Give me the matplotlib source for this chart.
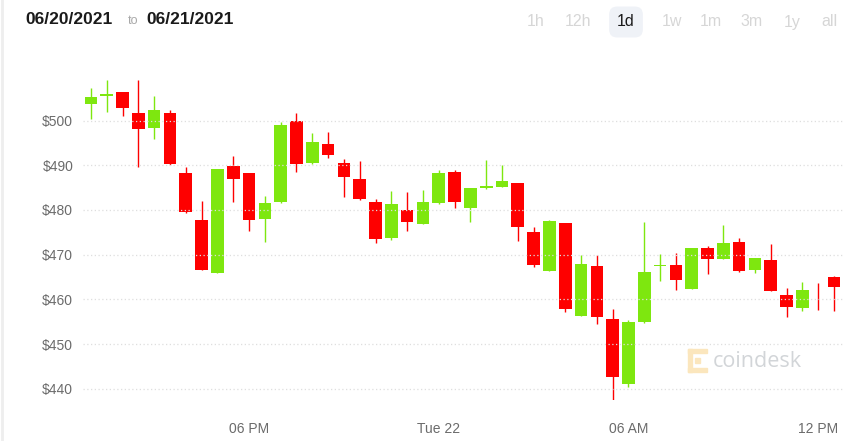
import matplotlib
matplotlib.use("Agg")
import matplotlib.pyplot as plt
import matplotlib.dates as mdates
import pandas as pd
import numpy as np
from matplotlib.patches import Rectangle

# half-hour candles, 21 Jun 13:00 -> 22 Jun 12:30
times = pd.date_range("2021-06-21 13:00", periods=48, freq="30min")

opens = [503.8, 505.4, 506.3, 501.7, 498.4, 501.7, 488.3, 477.8, 466.0, 489.9,
         488.2, 478.0, 481.8, 500.0, 490.5, 494.8, 490.4, 487.0, 481.8, 473.7,
         480.1, 476.9, 481.6, 488.4, 480.4, 485.0, 485.2, 486.0, 475.1, 466.4,
         477.0, 456.3, 467.4, 455.7, 441.1, 455.0, 467.5, 467.8, 462.3, 471.4,
         469.0, 472.8, 466.5, 468.8, 461.0, 458.0, 460.5, 464.9]
highs = [507.2, 509.1, 506.3, 509.0, 505.5, 502.4, 489.6, 481.9, 489.2, 492.1,
         488.2, 483.1, 499.6, 501.6, 497.2, 497.4, 491.3, 490.9, 482.5, 484.2,
         484.0, 484.4, 489.0, 489.0, 484.8, 491.2, 490.1, 486.0, 476.3, 477.7,
         477.0, 469.9, 469.9, 457.8, 455.5, 477.4, 470.1, 470.4, 471.4, 471.9,
         476.6, 473.7, 469.3, 472.4, 462.6, 464.0, 463.6, 465.2]
lows = [500.4, 502.0, 501.0, 489.6, 495.8, 490.0, 479.3, 466.6, 466.0, 481.7,
        475.3, 472.9, 481.5, 488.5, 490.2, 491.7, 482.9, 482.3, 472.6, 473.2,
        475.3, 476.9, 481.4, 480.4, 477.4, 484.6, 485.2, 473.1, 467.2, 466.3,
        457.2, 456.3, 454.6, 435.4, 440.4, 454.8, 464.1, 462.2, 462.3, 465.7,
        469.0, 466.1, 466.0, 461.8, 456.0, 457.4, 457.7, 457.4]
closes = [505.2, 506.0, 502.7, 498.1, 502.4, 490.3, 479.5, 466.6, 489.2, 486.9,
          477.8, 481.6, 499.1, 490.3, 495.1, 492.3, 487.4, 482.5, 473.6, 481.3,
          477.3, 481.7, 488.2, 481.8, 484.8, 485.2, 486.4, 476.1, 467.7, 477.6,
          457.8, 467.9, 456.1, 442.7, 454.9, 466.2, 467.7, 464.3, 471.4, 469.0,
          472.5, 466.3, 469.3, 461.8, 458.3, 462.1, 460.5, 462.8]

y_ticks = [440, 450, 460, 470, 480, 490, 500]
x_tick_times = ["2021-06-21 18:00", "2021-06-22 00:00", "2021-06-22 06:00", "2021-06-22 12:00"]
x_tick_labels = ["06 PM", "Tue 22", "06 AM", "12 PM"]
ranges = ["1h", "12h", "1d", "1w", "1m", "3m", "1y", "all"]

GREEN = "#7ee70f"
RED = "#fe0000"
FONT = ["Liberation Sans Narrow", "Liberation Sans", "DejaVu Sans"]
plt.rcParams["font.family"] = FONT

W, H = 865, 441
fig = plt.figure(figsize=(W / 100, H / 100), dpi=100)
ax = fig.add_axes([83 / W, (H - 400) / H, (844 - 83) / W, 330 / H])

o = np.array(opens)
c = np.array(closes)
up = c > o  # flat candles count as down (red)
colors = np.where(up, GREEN, RED)
x = mdates.date2num(times)
width = 24 / 1440  # 24 minutes in days

ax.vlines(x, lows, highs, colors=colors, linewidth=1.0, zorder=2)
bottoms = np.minimum(o, c)
diff = np.abs(c - o)
heights = np.where(diff == 0, 0, np.maximum(diff, 0.3))  # flat candle -> wick only
ax.bar(x, heights, width=width, bottom=bottoms, color=colors, linewidth=0, zorder=2)

# time limits: half a candle before first, a bit past the last
step = 30 / 1440
ax.set_xlim(x[0] - 0.5 * step, x[-1] + 0.63 * step)
ax.set_ylim(437.5, 511.3)

ax.set_yticks(y_ticks)
ax.set_yticklabels([f"${v}" for v in y_ticks])
ax.set_xticks(mdates.date2num(pd.to_datetime(x_tick_times)))
ax.set_xticklabels(x_tick_labels)
ax.tick_params(axis="both", length=0, labelsize=10, colors="#6b6b6b")
ax.tick_params(axis="y", pad=7)
ax.tick_params(axis="x", pad=16)
ax.grid(axis="y", linestyle=(0, (1, 2)), color="#dedede", linewidth=0.9, zorder=3)
ax.set_axisbelow(False)
for s in ax.spines.values():
    s.set_visible(False)

# coindesk watermark
ax.text(0.827, 0.118, "coindesk", transform=ax.transAxes, fontsize=15.5,
        color="#d2d5d8", family=["Open Sans", "DejaVu Sans"], va="center", ha="left", zorder=1)
logo = "#fbe6bd"
for rx, ry, rw, rh in [(688, 349, 4, 23), (688, 349, 19, 4), (688, 368, 19, 4), (695, 358, 5, 5)]:
    fig.patches.append(Rectangle((rx / W, (H - ry - rh) / H), rw / W, rh / H,
                                 transform=fig.transFigure, color=logo, zorder=0))

# header
fig.text(25 / W, 1 - 20 / H, "06/20/2021", fontsize=12.5, fontweight="bold", color="#1a1a1a", va="center")
fig.text(128 / W, 1 - 21 / H, "to", fontsize=9, color="#a8a8a8", va="center")
fig.text(146 / W, 1 - 20 / H, "06/21/2021", fontsize=12.5, fontweight="bold", color="#1a1a1a", va="center")

range_x = [536, 578, 626, 672, 711, 752, 792, 829]
for lab, px in zip(ranges, range_x):
    if lab == "1d":
        fig.text(px / W, 1 - 22 / H, lab, fontsize=11.5, color="#1a1a1a", ha="center", va="center",
                 bbox=dict(boxstyle="round,pad=0.5", fc="#eff2f7", ec="none"))
    else:
        fig.text(px / W, 1 - 22 / H, lab, fontsize=11.5, color="#d6d6d6", ha="center", va="center")

# faint left border
fig.add_artist(plt.Line2D([1.5 / W, 1.5 / W], [0, 1], transform=fig.transFigure, color="#eeeeee", linewidth=2))

fig.savefig("out.png", dpi=100, facecolor="white")
